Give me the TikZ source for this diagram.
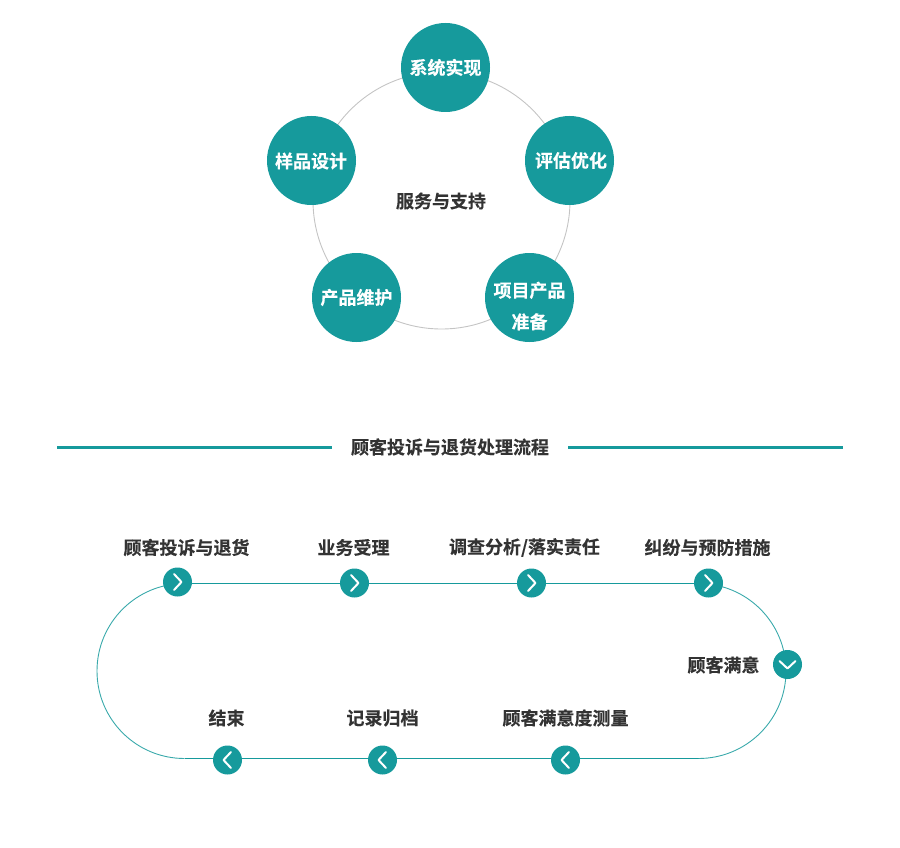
\documentclass[tikz,border=0pt]{standalone}
\usepackage{fontspec}
\setmainfont{Noto Sans CJK SC}[BoldFont={Noto Sans CJK SC Bold},BoldFeatures={FakeBold=0.25}]
\definecolor{teal1}{HTML}{169A9C}
\definecolor{txt}{HTML}{333333}
\definecolor{ringc}{HTML}{C4C4C4}
\tikzset{
  bigc/.style={circle,fill=teal1,draw=none,minimum size=89pt,inner sep=0pt},
  bigt/.style={text=white,font=\fontsize{18pt}{31.5pt}\selectfont\bfseries,align=center,inner sep=0pt},
  smallc/.style={circle,fill=teal1,draw=none,minimum size=29pt,inner sep=0pt},
  lab/.style={text=txt,font=\fontsize{18pt}{22pt}\selectfont\bfseries,inner sep=0pt},
  chev/.style={draw=white,line width=2pt,line cap=round,line join=round},
  trackline/.style={draw=teal1,line width=0.9pt},
  trackarc/.style={draw=teal1!85,line width=0.9pt},
  headline/.style={draw=teal1,line width=3pt},
}
\begin{document}
\begin{tikzpicture}[x=1pt,y=-1pt]
\useasboundingbox (0,0) rectangle (900,848);
% ring
\coordinate (ringc) at (441.5,200.5);
\draw[ringc,line width=0.9pt] (ringc) circle[radius=128.5pt];
\node[lab] (center) at (441,201) {服务与支持};
\node[bigc] (a1) at (445.5,67.5) {};
\node[bigc] (a2) at (569.5,160.5) {};
\node[bigc] (a3) at (529.5,297.5) {};
\node[bigc] (a4) at (356.5,297.5) {};
\node[bigc] (a5) at (311.5,160.5) {};
\node[bigt] (t1) at (445.5,67.5) {系统实现};
\node[bigt] (t2) at (571,160.5) {评估优化};
\node[bigt] (t3) at (529.5,306) {项目产品\\准备};
\node[bigt] (t4) at (356.5,297.5) {产品维护};
\node[bigt] (t5) at (311,161) {样品设计};
% header
\node[lab] (head) at (450,447) {顾客投诉与退货处理流程};
\coordinate (hl1) at (57,447.5);
\coordinate (hl2) at (332,447.5);
\coordinate (hr1) at (568,447.5);
\coordinate (hr2) at (843,447.5);
\draw[headline] (hl1) -- (hl2);
\draw[headline] (hr1) -- (hr2);
% nodes of track
\coordinate (n1) at (177.5,582);
\coordinate (n2) at (354.5,583);
\coordinate (n3) at (531.5,583);
\coordinate (n4) at (708.5,583);
\coordinate (n5) at (787.5,664.5);
\coordinate (n6) at (565.5,760);
\coordinate (n7) at (382.5,760);
\coordinate (n8) at (227.5,760);
\coordinate (tl) at (184.5,583.5);
\coordinate (tr) at (698.5,583.5);
\coordinate (bl) at (184.5,758.5);
\coordinate (br) at (698.5,758.5);
% track
\draw[trackline] (tl) -- (tr);
\draw[trackline] (br) -- (bl);
\draw[trackarc] (tr) arc[start angle=-90,end angle=90,x radius=87.5pt,y radius=-87.5pt];
\draw[trackarc] (tl) arc[start angle=-90,end angle=-270,x radius=87.5pt,y radius=-87.5pt];
% small circles
\node[smallc] (s1) at (n1) {};
\node[smallc] (s2) at (n2) {};
\node[smallc] (s3) at (n3) {};
\node[smallc] (s4) at (n4) {};
\node[smallc] (s5) at (n5) {};
\node[smallc] (s6) at (n6) {};
\node[smallc] (s7) at (n7) {};
\node[smallc] (s8) at (n8) {};
% chevrons
\foreach \n in {s1,s2,s3,s4}{
  \draw[chev] ([shift={(-3.5,-8)}]\n.center) -- ([shift={(4,0)}]\n.center) -- ([shift={(-3.5,8)}]\n.center);
}
\foreach \n in {s6,s7,s8}{
  \draw[chev] ([shift={(3.5,-8)}]\n.center) -- ([shift={(-4,0)}]\n.center) -- ([shift={(3.5,8)}]\n.center);
}
\draw[chev] ([shift={(-8,-3.5)}]s5.center) -- ([shift={(0,4)}]s5.center) -- ([shift={(8,-3.5)}]s5.center);
% labels
\node[lab] (l1) at (186.5,547.5) {顾客投诉与退货};
\node[lab] (l2) at (353.5,547.5) {业务受理};
\node[lab] (l3) at (524.5,547.5) {调查分析/落实责任};
\node[lab] (l4) at (707.5,547.5) {纠纷与预防措施};
\node[lab] (l5) at (723.5,665) {顾客满意};
\node[lab] (l6) at (565.5,718) {顾客满意度测量};
\node[lab] (l7) at (382.5,718) {记录归档};
\node[lab] (l8) at (226.5,718) {结束};
\end{tikzpicture}
\end{document}
